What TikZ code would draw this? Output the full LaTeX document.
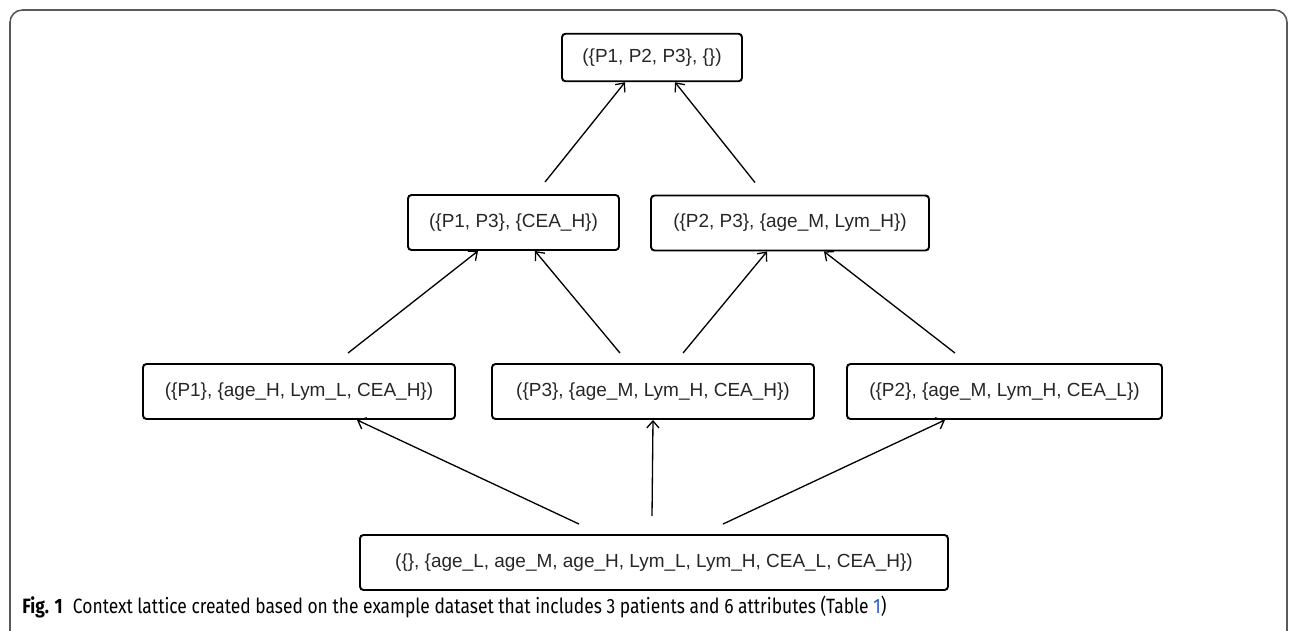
\documentclass[tikz,border=0pt]{standalone}
\usepackage{fontspec}
\setmainfont{Liberation Sans}
\newfontfamily\capfont[FakeStretch=0.84]{Fira Sans}
\usetikzlibrary{arrows.meta}
\definecolor{linkblue}{RGB}{40,90,200}

\tikzset{
  concept/.style={draw, line width=1.1pt, rounded corners=2pt, minimum height=1.1cm,
                  inner xsep=0pt, text=black!85, font=\fontsize{10.8}{13}\selectfont},
  edge/.style={-{Straight Barb[length=4pt,width=7pt]}, line width=0.75pt}
}

\begin{document}
\begin{tikzpicture}
\useasboundingbox (0,0) rectangle (25.92,12.6);
\draw[black!65, line width=0.9pt, rounded corners=7pt] (0.2,-0.6) rectangle (25.74,12.4);

\node[concept, minimum width=3.6cm, minimum height=0.95cm] (top) at (13.04,11.45) {(\{P1, P2, P3\}, \{\})};
\node[concept, minimum width=4.22cm] (p13) at (10.27,8.15) {(\{P1, P3\}, \{CEA\_H\})};
\node[concept, minimum width=5.56cm] (p23) at (15.80,8.14) {(\{P2, P3\}, \{age\_M, Lym\_H\})};
\node[concept, minimum width=6.24cm] (r1) at (5.98,4.77) {(\{P1\}, \{age\_H, Lym\_L, CEA\_H\})};
\node[concept, minimum width=6.44cm] (r2) at (13.06,4.77) {(\{P3\}, \{age\_M, Lym\_H, CEA\_H\})};
\node[concept, minimum width=6.30cm] (r3) at (20.09,4.77) {(\{P2\}, \{age\_M, Lym\_H, CEA\_L\})};
\node[concept, minimum width=11.76cm] (bot) at (13.08,1.35) {(\{\}, \{age\_L, age\_M, age\_H, Lym\_L, Lym\_H, CEA\_L, CEA\_H\})};

\draw[edge] ([xshift=0.63cm, yshift=0.24cm]p13.north) -- ([xshift=-0.54cm]top.south);
\draw[edge] ([xshift=-0.70cm, yshift=0.24cm]p23.north) -- ([xshift=0.46cm]top.south);
\draw[edge] ([xshift=0.98cm, yshift=0.2cm]r1.north) -- ([xshift=-0.71cm]p13.south);
\draw[edge] ([xshift=-0.66cm, yshift=0.2cm]r2.north) -- ([xshift=0.43cm]p13.south);
\draw[edge] ([xshift=0.60cm, yshift=0.2cm]r2.north) -- ([xshift=-0.46cm]p23.south);
\draw[edge] ([xshift=-0.99cm, yshift=0.2cm]r3.north) -- ([xshift=0.68cm]p23.south);
\draw[edge] ([xshift=-1.50cm, yshift=0.2cm]bot.north) -- ([xshift=1.16cm]r1.south);
\draw[edge] ([xshift=-0.04cm, yshift=0.36cm]bot.north) -- (r2.south);
\draw[edge] ([xshift=1.38cm, yshift=0.2cm]bot.north) -- ([xshift=-1.19cm]r3.south);

\node[anchor=base west, inner sep=0pt, font=\capfont\fontsize{11.8}{14}\selectfont] (cap) at (0.44,0.33)
  {\textbf{Fig. 1}\enspace Context lattice created based on the example dataset that includes 3 patients and 6 attributes (Table {\color{linkblue}1})};
\end{tikzpicture}
\end{document}
